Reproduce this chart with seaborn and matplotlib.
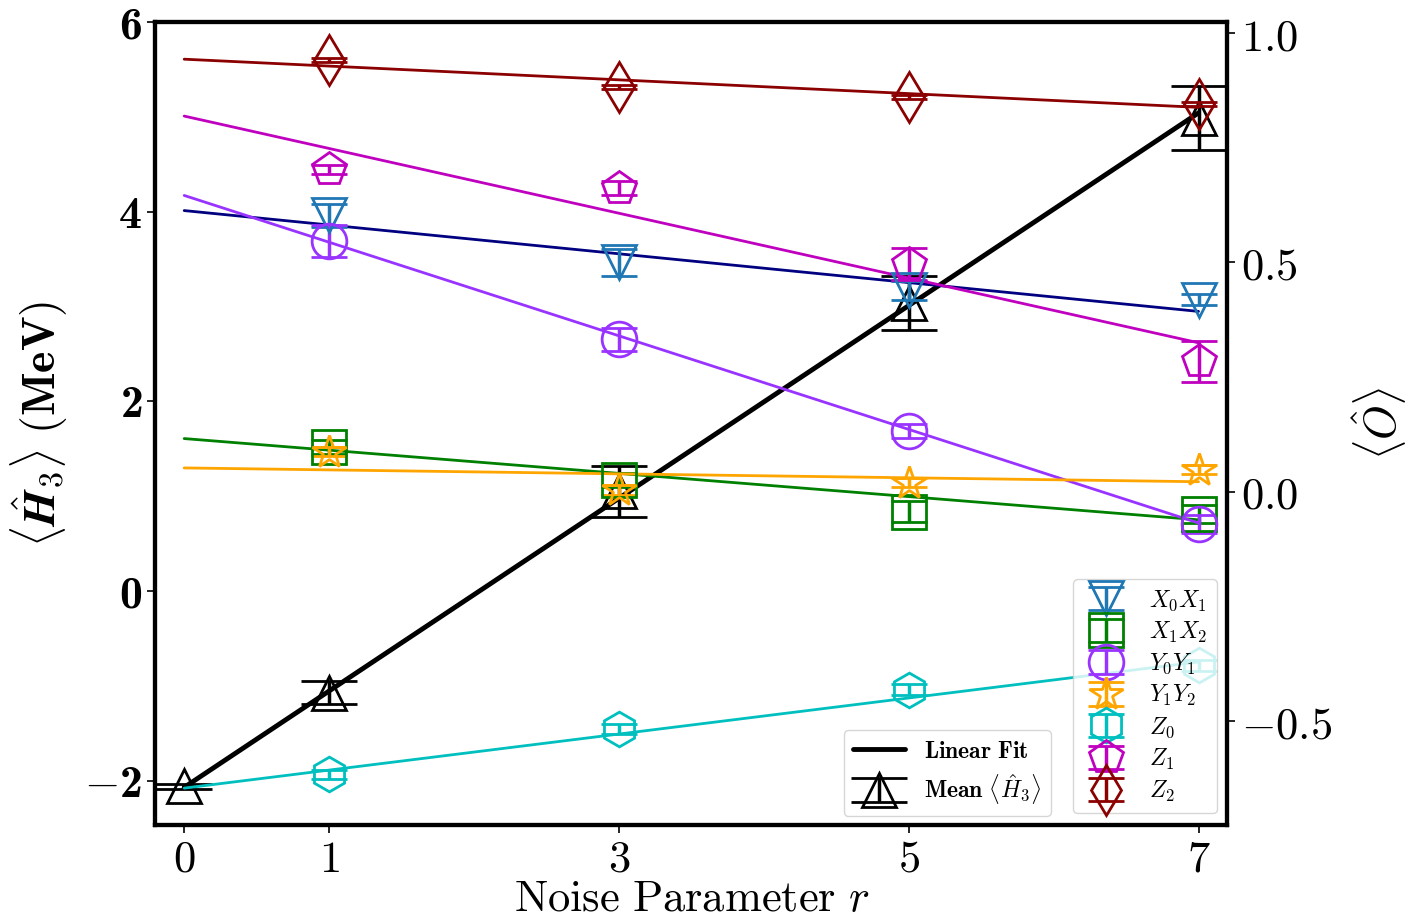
import numpy as np
import matplotlib
matplotlib.use("Agg")
import matplotlib.pyplot as plt
import seaborn as sns

# noise parameter values
r_obs = [1, 3, 5, 7]
r_mean = [0, 1, 3, 5, 7]

# mean <H3> (left axis, MeV)
h3_mean = [-2.06, -1.07, 1.05, 3.04, 4.99]
h3_err = [0.03, 0.12, 0.27, 0.285, 0.34]
h3_fit = [-2.07, 1.016]  # intercept, slope

# observables (right axis)
x0x1_vals = [0.603, 0.50, 0.439, 0.419]
x0x1_err = [0.025, 0.03, 0.02, 0.012]
x0x1_fit = [0.613, -0.0314]

x1x2_vals = [0.098, 0.026, -0.043, -0.048]
x1x2_err = [0.015, 0.015, 0.022, 0.02]
x1x2_fit = [0.116, -0.0253]

y0y1_vals = [0.546, 0.332, 0.133, -0.07]
y0y1_err = [0.035, 0.025, 0.015, 0.02]
y0y1_fit = [0.646, -0.1020]

y1y2_vals = [0.087, 0.004, 0.02, 0.048]
y1y2_err = [0.01, 0.01, 0.01, 0.01]
y1y2_fit = [0.052, -0.0043]

z0_vals = [-0.616, -0.517, -0.432, -0.378]
z0_err = [0.01, 0.01, 0.012, 0.012]
z0_fit = [-0.646, 0.0393]

z1_vals = [0.703, 0.662, 0.496, 0.284]
z1_err = [0.01, 0.015, 0.035, 0.044]
z1_fit = [0.819, -0.0706]

z2_vals = [0.941, 0.882, 0.86, 0.845]
z2_err = [0.004, 0.004, 0.004, 0.004]
z2_fit = [0.943, -0.0150]

obs_labels = [r'$X_0X_1$', r'$X_1X_2$', r'$Y_0Y_1$', r'$Y_1Y_2$', r'$Z_0$', r'$Z_1$', r'$Z_2$']
obs_markers = ['v', 's', 'o', '*', 'h', 'p', 'd']
obs_colors = ['#1f77b4', 'green', '#9933ff', 'orange', '#00bfbf', '#bf00bf', 'darkred']
fit_colors = ['navy', 'green', '#9933ff', 'orange', '#00bfbf', '#bf00bf', 'darkred']

x_ticks = [0, 1, 3, 5, 7]
left_ticks = [-2, 0, 2, 4, 6]
right_ticks = [-0.5, 0.0, 0.5, 1.0]

sns.set_style("ticks", {'axes.edgecolor': 'black', 'text.color': 'black',
                        'xtick.color': 'black', 'ytick.color': 'black',
                        'axes.labelcolor': 'black'})
plt.rcParams['mathtext.fontset'] = 'cm'
plt.rcParams['font.family'] = ['DejaVu Serif']

fig, ax = plt.subplots(figsize=(14.24, 9.18), dpi=100)
fig.subplots_adjust(left=0.109, right=0.862, bottom=0.101, top=0.976)
ax2 = ax.twinx()

fit_x = np.array([0, 7])

# mean H3 with linear fit
sns.lineplot(x=fit_x, y=h3_fit[0] + h3_fit[1] * fit_x, ax=ax, color='black', lw=3.5, legend=False)
fit_handle = ax.lines[-1]
mean_h = ax.errorbar(r_mean, h3_mean, yerr=h3_err, fmt='^', ms=25, mfc='none', mec='black',
                     mew=2, ecolor='black', elinewidth=2.5, capsize=20, capthick=3.5)

# observables
all_vals = [x0x1_vals, x1x2_vals, y0y1_vals, y1y2_vals, z0_vals, z1_vals, z2_vals]
all_errs = [x0x1_err, x1x2_err, y0y1_err, y1y2_err, z0_err, z1_err, z2_err]
all_fits = [x0x1_fit, x1x2_fit, y0y1_fit, y1y2_fit, z0_fit, z1_fit, z2_fit]

handles = []
for vals, errs, fit, mk, c, fc in zip(all_vals, all_errs, all_fits, obs_markers, obs_colors, fit_colors):
    sns.lineplot(x=fit_x, y=fit[0] + fit[1] * fit_x, ax=ax2, color=fc, lw=2, legend=False)
    h = ax2.errorbar(r_obs, vals, yerr=errs, fmt=mk, ms=25, mfc='none', mec=c, mew=2,
                     ecolor=c, elinewidth=2.5, capsize=13, capthick=3)
    handles.append(h)

ax.set_xlim(-0.2, 7.2)
ax.set_ylim(-2.47, 6.0)
ax2.set_ylim(-0.727, 1.024)


def bold_num(v):
    s = '%d' % abs(v)
    return (r'$-\mathdefault{%s}$' % s) if v < 0 else (r'$\mathdefault{%s}$' % s)


ax.set_xticks(x_ticks)
ax.set_xticklabels([r'$%d$' % t for t in x_ticks], fontsize=32)
ax.set_yticks(left_ticks)
ax.set_yticklabels([bold_num(t) for t in left_ticks], fontsize=33, fontfamily='cmb10')
ax2.set_yticks(right_ticks)
ax2.set_yticklabels([r'$%.1f$' % t for t in right_ticks], fontsize=32)

for a in (ax, ax2):
    a.tick_params(length=6, width=1.2, color='black')
    for s in a.spines.values():
        s.set_linewidth(3)
        s.set_color('black')
ax.tick_params(axis='x', pad=3)

ax.set_xlabel(r'$\mathrm{Noise\ Parameter}\ r$', fontsize=32, labelpad=-3)
ax.set_ylabel(r'$\langle\hat{\mathbfit{H}}_{3}\rangle\ \mathbf{(MeV)}$', fontsize=33, labelpad=10)
ax2.set_ylabel(r'$\langle \hat{O} \rangle$', fontsize=32, labelpad=14)

leg1 = ax2.legend(handles, obs_labels, loc='lower right', bbox_to_anchor=(0.99, 0.015),
                  borderaxespad=0, fontsize=17, labelspacing=0.3, handlelength=2.0)
ax2.add_artist(leg1)
ax2.legend([fit_handle, mean_h], [r'$\mathbf{Linear\ Fit}$', r'$\mathbf{Mean}\ \langle\hat{H}_3\rangle$'],
           loc='lower right', bbox_to_anchor=(0.835, 0.012), borderaxespad=0, fontsize=17,
           labelspacing=0.4, handlelength=2.2)

plt.savefig("out.png", dpi=100)
